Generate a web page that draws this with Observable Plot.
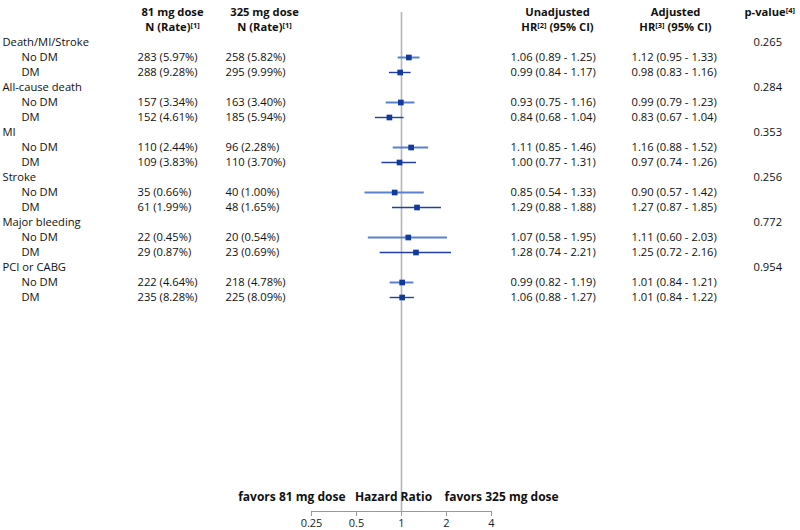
<!DOCTYPE html>
<html><head><meta charset="utf-8">
<script src="https://cdn.jsdelivr.net/npm/d3@7"></script>
<script src="https://cdn.jsdelivr.net/npm/@observablehq/plot@0.6"></script>
<style>body{margin:0;background:#fff}#chart{width:800px;height:530px}</style>
</head><body><div id="chart"></div>
<script>
// ---- data ----
const categories = ["Death/MI/Stroke", "All-cause death", "MI", "Stroke", "Major bleeding", "PCI or CABG"];
const subgroups = ["No DM", "DM"];
const events81 = [283, 288, 157, 152, 110, 109, 35, 61, 22, 29, 222, 235];
const rate81 = [5.97, 9.28, 3.34, 4.61, 2.44, 3.83, 0.66, 1.99, 0.45, 0.87, 4.64, 8.28];
const events325 = [258, 295, 163, 185, 96, 110, 40, 48, 20, 23, 218, 225];
const rate325 = [5.82, 9.99, 3.40, 5.94, 2.28, 3.70, 1.00, 1.65, 0.54, 0.69, 4.78, 8.09];
const unadjHR = [1.06, 0.99, 0.93, 0.84, 1.11, 1.00, 0.85, 1.29, 1.07, 1.28, 0.99, 1.06];
const unadjLo = [0.89, 0.84, 0.75, 0.68, 0.85, 0.77, 0.54, 0.88, 0.58, 0.74, 0.82, 0.88];
const unadjHi = [1.25, 1.17, 1.16, 1.04, 1.46, 1.31, 1.33, 1.88, 1.95, 2.21, 1.19, 1.27];
const adjHR = [1.12, 0.98, 0.99, 0.83, 1.16, 0.97, 0.90, 1.27, 1.11, 1.25, 1.01, 1.01];
const adjLo = [0.95, 0.83, 0.79, 0.67, 0.88, 0.74, 0.57, 0.87, 0.60, 0.72, 0.84, 0.84];
const adjHi = [1.33, 1.16, 1.23, 1.04, 1.52, 1.26, 1.42, 1.85, 2.03, 2.16, 1.21, 1.22];
const pValues = ["0.265", "0.284", "0.353", "0.256", "0.772", "0.954"];
const headerLine1 = ["81 mg dose", "325 mg dose", "Unadjusted", "Adjusted", "p-value{[4]}"];
const headerLine2 = ["N (Rate){[1]}", "N (Rate){[1]}", "HR{[2]} (95% CI)", "HR{[3]} (95% CI)", ""];
const xTicks = [0.25, 0.5, 1, 2, 4];
const axisLabels = ["favors 81 mg dose", "Hazard Ratio", "favors 325 mg dose"];

// ---- layout (pixels) ----
const W = 800, H = 530, marginTop = 12, marginBottom = 19;
const headerX = [172, 264, 557, 675, 744];
const headerAnchor = ["middle", "middle", "middle", "middle", "start"];
const colX = {cat: 2, sub: 21, n81: 137, n325: 225, unadj: 510, adj: 631, p: 753};
const font = "Open Sans";
const FS = 11.2;

// ---- build rows ----
const fmt = v => v.toFixed(2);
const catRows = [], subRows = [], domain = ["h1", "h2"];
categories.forEach((c, i) => {
  catRows.push({key: c, label: c, p: pValues[i]});
  domain.push(c);
  subgroups.forEach((s, j) => {
    const k = i * 2 + j, key = c + "|" + s;
    domain.push(key);
    subRows.push({
      key, sub: s,
      n81: `${events81[k]} (${fmt(rate81[k])}%)`,
      n325: `${events325[k]} (${fmt(rate325[k])}%)`,
      unadj: `${fmt(unadjHR[k])} (${fmt(unadjLo[k])} - ${fmt(unadjHi[k])})`,
      adj: `${fmt(adjHR[k])} (${fmt(adjLo[k])} - ${fmt(adjHi[k])})`,
      hr: adjHR[k], lo: adjLo[k], hi: adjHi[k]
    });
  });
});

const txt = (data, field, dx, extra = {}) =>
  Plot.text(data, {y: "key", text: field, frameAnchor: "left", textAnchor: "start", dx, fill: "#111", fontSize: FS, ...extra});

const headerMarks = [];
[headerLine1, headerLine2].forEach((line, li) => {
  line.forEach((t, ci) => {
    if (!t) return;
    headerMarks.push(Plot.text([t], {
      y: () => li === 0 ? "h1" : "h2", text: d => d, frameAnchor: "left",
      textAnchor: headerAnchor[ci], dx: headerX[ci], fontWeight: "bold", fontSize: FS, fill: "#111"
    }));
  });
});

const chart = Plot.plot({
  width: W, height: H, marginLeft: 0, marginRight: 0, marginTop, marginBottom,
  style: {fontFamily: font, fontSize: FS + "px", background: "#fff"},
  x: {type: "log", domain: [0.25, 4], range: [311, 491]},
  y: {type: "point", domain, range: [9, 300.3], padding: 0, axis: null},
  marks: [
    Plot.ruleX([1], {stroke: "#b4b4bc", strokeWidth: 1.6}),
    Plot.ruleY(subRows.filter(d => d.sub === "No DM"), {y: "key", x1: "lo", x2: "hi", stroke: "#5a80d0", strokeWidth: 2}),
    Plot.ruleY(subRows.filter(d => d.sub === "DM"), {y: "key", x1: "lo", x2: "hi", stroke: "#21409f", strokeWidth: 1.4}),
    Plot.dot(subRows, {x: "hr", y: "key", symbol: "square", r: 3.2, fill: "#123a9c", stroke: null}),
    txt(catRows, "label", colX.cat),
    txt(catRows, "p", colX.p),
    txt(subRows, "sub", colX.sub),
    txt(subRows, "n81", colX.n81),
    txt(subRows, "n325", colX.n325),
    txt(subRows, "unadj", colX.unadj),
    txt(subRows, "adj", colX.adj),
    ...headerMarks,
    Plot.text([axisLabels[0]], {x: () => 1, text: d => d, frameAnchor: "bottom", textAnchor: "end", dx: -56, dy: -11, fontWeight: "bold", fontSize: 12, fill: "#111"}),
    Plot.text([axisLabels[1]], {x: () => 1, text: d => d, frameAnchor: "bottom", textAnchor: "middle", dx: -8, dy: -11, fontWeight: "bold", fontSize: 12, fill: "#111"}),
    Plot.text([axisLabels[2]], {x: () => 1, text: d => d, frameAnchor: "bottom", textAnchor: "start", dx: 43, dy: -11, fontWeight: "bold", fontSize: 12, fill: "#111"}),
    Plot.axisX({ticks: xTicks, tickFormat: d => String(d), tickSize: 5, tickPadding: 3, stroke: "#999", color: "#222", fontSize: 11, label: null})
  ]
});

// axis baseline spanning the tick range, placed with the library's x scale
const xs = chart.scale("x");
d3.select(chart).append("line")
  .attr("x1", xs.apply(xTicks[0])).attr("x2", xs.apply(xTicks[xTicks.length - 1]))
  .attr("y1", H - marginBottom + 0.5).attr("y2", H - marginBottom + 0.5)
  .attr("stroke", "#999");

// superscripts: {..} -> raised small tspan
d3.select(chart).selectAll("text").each(function () {
  const t = this.textContent;
  if (!t.includes("{")) return;
  const parts = t.split(/(\{[^}]*\})/).filter(s => s);
  this.textContent = "";
  let raised = false;
  parts.forEach(p => {
    const ts = document.createElementNS("http://www.w3.org/2000/svg", "tspan");
    if (p.startsWith("{")) {
      ts.textContent = p.slice(1, -1);
      ts.setAttribute("font-size", 7.5);
      ts.setAttribute("dy", "-3.5");
      raised = true;
    } else {
      ts.textContent = p;
      if (raised) { ts.setAttribute("dy", "3.5"); raised = false; }
    }
    this.appendChild(ts);
  });
});

document.getElementById("chart").appendChild(chart);
</script>
</body></html>
